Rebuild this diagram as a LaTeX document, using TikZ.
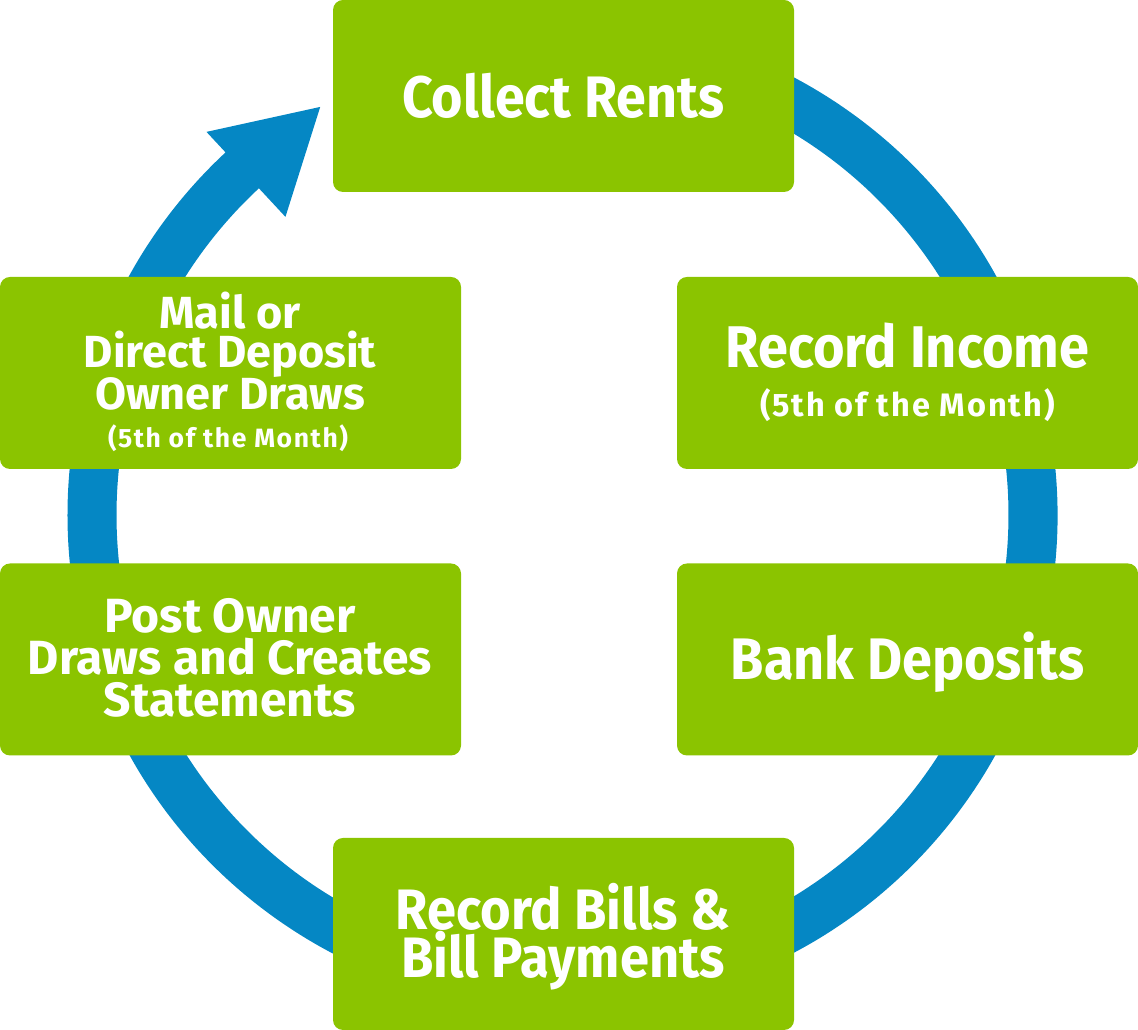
\documentclass[tikz,border=0pt]{standalone}
\usepackage{fontspec}
\setmainfont{Fira Sans}
\newfontfamily\titlefont{Fira Sans}[FakeStretch=0.92]
\definecolor{ringblue}{HTML}{0587C4}
\definecolor{boxgreen}{HTML}{8BC400}
\newcommand\myfs[2]{\fontsize{#1}{#2}\selectfont}
\begin{document}
\begin{tikzpicture}[x=1pt,y=1pt,
  box/.style={fill=boxgreen, rounded corners=10pt, minimum width=461pt, minimum height=192pt, inner sep=0pt, draw=none},
  lbl/.style={text=white, align=center, inner sep=0pt, anchor=base},
  subl/.style={lbl, font={\bfseries\myfs{32.5}{32.5}\addfontfeatures{LetterSpace=6}}}]
\useasboundingbox (0,0) rectangle (1138,1030);
% ring with arrow head
\fill[ringblue, shift={(562.5,515)}]
  (100:495) arc[start angle=100, end angle=-227.1, radius=495]
  -- (132.9:523) -- (120.7:474.6) -- (132.9:407) -- (132.9:446)
  arc[start angle=-227.1, end angle=100, radius=446] -- cycle;
% boxes
\node[box] (cr) at (563.5,934) {};
\node[box] (ri) at (907.5,657) {};
\node[box] (bd) at (907.5,370.5) {};
\node[box] (rb) at (563.5,96) {};
\node[box] (po) at (230.5,370.5) {};
\node[box] (mo) at (230.5,657) {};
% labels
\node[lbl, font={\titlefont\bfseries\myfs{58.5}{58.5}}] (tcr) at (563,912) {Collect Rents};
\node[lbl, font={\titlefont\bfseries\myfs{58.8}{58.8}}] (tri) at (907.5,662) {Record Income};
\node[subl] (sri) at (907.5,613) {(5th of the Month)};
\node[lbl, font={\titlefont\bfseries\myfs{58.6}{58.6}}] (tbd) at (907.5,350) {Bank Deposits};
\node[lbl, font={\titlefont\bfseries\myfs{57}{48}}] (trb) at (563,52) {Record Bills \&\\Bill Payments};
\node[lbl, font={\bfseries\myfs{48}{42}}] (tpo) at (230,313) {Post Owner\\Draws and Creates\\Statements};
\node[lbl, font={\bfseries\myfs{45}{39}}] (tmo) at (230,620) {Mail or\\Direct Deposit\\Owner Draws};
\node[subl, font={\bfseries\myfs{26.5}{26.5}\addfontfeatures{LetterSpace=6}}] (smo) at (228,582) {(5th of the Month)};
\end{tikzpicture}
\end{document}
